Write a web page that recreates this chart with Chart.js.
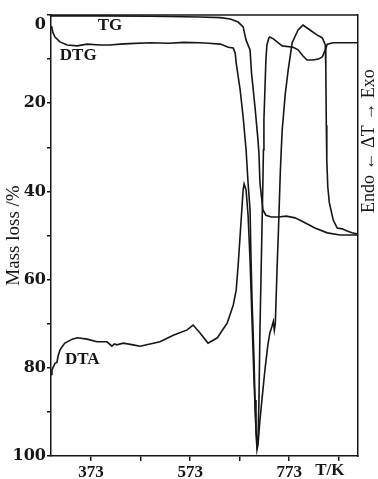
<!DOCTYPE html>
<html>
<head>
<meta charset="utf-8">
<script src="https://cdn.jsdelivr.net/npm/chart.js@4"></script>
<style>
  html,body{margin:0;padding:0;background:#fff}
  canvas{display:block}
</style>
</head>
<body>
<canvas id="c" width="378" height="479"></canvas>
<script>
// ===================== DADOS (T em K, valores em %) =====================
const tgT = [292,391,492,593,634,654,670,680,686,694,697,704,710,712,714,720,726,737,751,767,785,801,825,850,876,912];
const tgV = [0.2,0.2,0.3,0.45,0.6,0.9,1.6,2.7,5.7,7.9,13.2,20.9,28.3,31.5,38.1,44.2,45.4,45.8,45.8,45.6,46,46.9,48.3,49.4,49.9,49.9];

const dtgT = [293,296,300,310,325,345,365,391,410,432,450,492,530,560,593,610,634,650,660,664,666,674,680,686,690,694,696,698,702,704,706,708,710,712,714,716,718,720,721,722,726,728,732,734,741,751,759,781,791,801,809,821,832,840,846,850,862,912];
const dtgV = [2.5,4.0,5.0,6.1,6.8,7.0,6.6,6.8,6.8,6.6,6.5,6.3,6.4,6.2,6.3,6.4,6.6,7.3,7.5,8.6,10.9,17,23.1,30.6,38.1,44.2,55.6,64.6,78.2,87.3,94.1,97.5,96.4,87.3,71.4,60.1,48.8,37.4,30.6,23.8,10.2,6.8,5.2,5.0,5.4,6.3,7.0,7.3,7.9,9.3,10.2,10.2,10.0,9.5,7.9,6.6,6.3,6.3];

const dtaT = [292,294,300,304,306,310,314,320,335,345,365,385,405,415,420,425,438,458,472,492,512,539,567,579,593,609,628,648,660,666,670,674,678,680,682,686,690,694,698,702,706,708,710,714,720,724,730,734,738,741,743,745,747,749,751,753,755,757,759,765,771,779,791,801,815,829,840,846,847,848,849,851,854,858,862,870,880,890,900,912];
const dtaV = [81.5,80.5,79,78.8,77.5,76,75.3,74.4,73.5,73.2,73.5,74.1,74.1,75.1,74.6,74.8,74.4,74.8,75.1,74.6,74.1,72.6,71.4,70.3,72.1,74.4,73.2,69.8,65.8,62.4,56.7,49.9,43.1,39.7,38.3,39.7,45.4,55.6,69.2,82.8,94.1,98.6,97.5,91.8,85,80.5,74.8,72.1,70.7,69.5,71.5,70,63,56,50,43,36,30.6,26,18,12.5,6.3,3.4,2.3,3.4,4.5,5.2,6.8,12,25,33,39,42.5,44.5,46.5,48.3,48.5,49,49.4,49.7];

const xTicks = [373,473,573,673,773,873];
const xTickLabels = ['373','','573','','773',''];
const yTicks = [0,10,20,30,40,50,60,70,80,90,100];
const yTickLabels = [['','0'],'','20','','40','','60','','80','','100']; // o "0" fica abaixo da marca

const curveNames = ['TG','DTG','DTA'];
const INK = '#161616';

const toXY = (ts,vs)=>ts.map((t,i)=>({x:t,y:vs[i]}));

// textos soltos: nomes das curvas, T/K e o eixo ΔT
const annotPlugin = {
  id:'annot',
  afterDraw(chart){
    const {ctx, chartArea:a, scales:{x,y}} = chart;
    ctx.save();
    // moldura superior
    ctx.strokeStyle = INK; ctx.lineWidth = 1.5;
    ctx.beginPath(); ctx.moveTo(a.left,a.top); ctx.lineTo(a.right,a.top); ctx.stroke();

    ctx.fillStyle = INK;
    ctx.textAlign = 'center'; ctx.textBaseline = 'middle';
    ctx.font = 'bold 17px "Liberation Serif"';
    const at = [[411,2.5],[347,9.3],[355,78.2]];
    curveNames.forEach((n,i)=>ctx.fillText(n, x.getPixelForValue(at[i][0]), y.getPixelForValue(at[i][1])));

    ctx.textBaseline = 'top';
    ctx.fillText('T/K', x.getPixelForValue(855), a.bottom + 6);

    ctx.translate(a.right + 11, y.getPixelForValue(28.6));
    ctx.rotate(-Math.PI/2);
    ctx.textBaseline = 'middle';
    ctx.font = '18px "Liberation Serif"';
    ctx.fillText('Endo \u2190 \u0394T \u2192 Exo', 0, 0);
    ctx.restore();
  }
};

const line = (data)=>({data, borderColor:INK, borderWidth:1.6, pointRadius:0, tension:0, fill:false});

new Chart(document.getElementById('c').getContext('2d'),{
  type:'line',
  data:{datasets:[
    {label:'TG',  ...line(toXY(tgT,tgV))},
    {label:'DTG', ...line(toXY(dtgT,dtgV))},
    {label:'DTA', ...line(toXY(dtaT,dtaV))}
  ]},
  options:{
    responsive:false, animation:false, devicePixelRatio:1,
    layout:{padding:{top:15,left:0,right:0,bottom:0}},
    plugins:{legend:{display:false}, tooltip:{enabled:false}},
    scales:{
      x:{type:'linear', min:292, max:912,
        afterBuildTicks:s=>{ s.ticks = xTicks.map(v=>({value:v})); },
        afterFit:s=>{ s.height = 23; },
        ticks:{autoSkip:false, maxRotation:0, padding:1, color:INK,
          font:{family:'Liberation Serif', weight:'bold', size:17},
          callback:v=>xTickLabels[xTicks.indexOf(v)]},
        grid:{drawOnChartArea:false, tickLength:5, color:INK, lineWidth:1.5},
        border:{color:INK, width:1.5}},
      y:{type:'linear', reverse:true, min:0, max:100,
        afterBuildTicks:s=>{ s.ticks = yTicks.map(v=>({value:v})); },
        afterFit:s=>{ s.width = 51; },
        ticks:{autoSkip:false, padding:1, color:INK,
          font:{family:'DejaVu Serif', weight:'bold', size:16},
          callback:v=>yTickLabels[yTicks.indexOf(v)]},
        grid:{drawOnChartArea:false, tickLength:4, color:INK, lineWidth:1.5},
        border:{color:INK, width:1.5},
        title:{display:true, text:'Mass loss /%', color:INK,
          font:{family:'Liberation Serif', size:19}, padding:{top:3,bottom:0}}},
      y2:{position:'right', min:0, max:1,
        afterFit:s=>{ s.width = 20; },
        ticks:{display:false}, grid:{display:false},
        border:{color:INK, width:1.5}}
    }
  },
  plugins:[annotPlugin]
});
</script>
</body>
</html>
